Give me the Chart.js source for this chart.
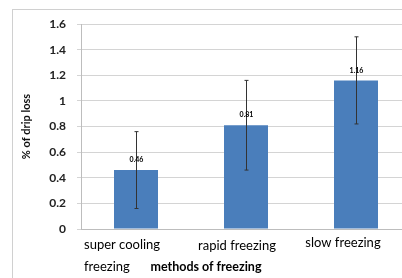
<!DOCTYPE html>
<html>
<head>
<meta charset="utf-8">
<script src="https://cdn.jsdelivr.net/npm/chart.js@4.4.1/dist/chart.umd.min.js"></script>
<style>
  body { margin: 0; overflow: hidden; background: #fff; }
  #wrap { position: absolute; left: 0; top: 0; width: 412px; height: 278px; }
</style>
</head>
<body>
<div id="wrap"><canvas id="dripChart"></canvas></div>
<script>
var methods = [["super cooling", "freezing"], ["rapid freezing"], ["slow freezing"]];
var dripLoss = [0.46, 0.81, 1.16];
var dripErr = [0.30, 0.35, 0.34];
var valueLabels = ["0.46", "0.81", "1.16"];
var yTicks = [0, 0.2, 0.4, 0.6, 0.8, 1, 1.2, 1.4, 1.6];

var FONT = "Lato, 'Open Sans', sans-serif";

// light frame round the chart, like the office chart border
var framePlugin = {
    id: 'frame',
    beforeDraw: function (chart) {
        var c = chart.ctx;
        c.save();
        c.fillStyle = '#fff';
        c.fillRect(0, 0, chart.width, chart.height);
        c.strokeStyle = '#d0d0d0';
        c.lineWidth = 1;
        c.strokeRect(12.5, 9.5, 600, 400);
        c.restore();
    }
};

// error bars and value labels, placed with the chart's own scales
var errorPlugin = {
    id: 'errors',
    afterDatasetsDraw: function (chart) {
        var c = chart.ctx;
        var x = chart.scales.x, y = chart.scales.y;
        c.save();
        c.strokeStyle = '#333';
        c.lineWidth = 1;
        dripLoss.forEach(function (v, i) {
            var px = Math.round(x.getPixelForValue(i)) + 0.5;
            var top = y.getPixelForValue(v + dripErr[i]);
            var bot = y.getPixelForValue(v - dripErr[i]);
            c.beginPath();
            c.moveTo(px, top); c.lineTo(px, bot);
            c.moveTo(px - 2, top); c.lineTo(px + 2, top);
            c.moveTo(px - 2, bot); c.lineTo(px + 2, bot);
            c.stroke();
            c.fillStyle = '#000';
            c.font = 'bold 7px ' + FONT;
            c.textAlign = 'center';
            c.textBaseline = 'middle';
            c.fillText(valueLabels[i], px, y.getPixelForValue(v) - 10);
        });
        c.restore();
    },
    afterDraw: function (chart) {
        var c = chart.ctx;
        var x = chart.scales.x;
        c.save();
        c.fillStyle = '#000';
        c.font = '13px ' + FONT;
        c.textBaseline = 'middle';
        c.textAlign = 'left';
        var p0 = x.getPixelForValue(0);
        c.fillText(methods[0][0], p0 - 52, 245);
        c.fillText(methods[0][1], p0 - 52, 267);
        c.textAlign = 'center';
        c.fillText(methods[1][0], x.getPixelForValue(1) - 9, 246);
        c.fillText(methods[2][0], x.getPixelForValue(2) - 13, 243);
        c.font = 'bold 12.5px ' + FONT;
        c.fillText('methods of freezing', (x.getPixelForValue(0) + x.getPixelForValue(1)) / 2 + 15, 267);
        c.restore();
    }
};

var ctx = document.getElementById("dripChart").getContext('2d');
var myChart = new Chart(ctx, {
    type: 'bar',
    data: {
        labels: methods,
        datasets: [{
            label: '% of drip loss',
            backgroundColor: "#4a7ebb",
            data: dripLoss,
            barPercentage: 0.4,
            categoryPercentage: 1
        }]
    },
    options: {
        responsive: true,
        maintainAspectRatio: false,
        animation: false,
        layout: { padding: { top: 24, right: 1, left: 0, bottom: 0 } },
        plugins: {
            legend: { display: false },
            tooltip: { enabled: false }
        },
        scales: {
            x: {
                grid: { display: false },
                border: { color: '#bdbdbd' },
                ticks: { display: false },
                afterFit: function (s) { s.height = 49; }
            },
            y: {
                min: 0,
                max: 1.6,
                afterBuildTicks: function (s) {
                    s.ticks = yTicks.map(function (v) { return { value: v }; });
                },
                grid: { color: '#d4d4d4', tickLength: 4 },
                border: { color: '#bdbdbd' },
                ticks: {
                    padding: 11,
                    color: '#222',
                    font: { family: FONT, size: 12, weight: 'bold' },
                    callback: function (v) { return String(Math.round(v * 10) / 10); }
                },
                title: {
                    display: true,
                    text: '% of drip loss',
                    color: '#111',
                    font: { family: FONT, size: 11, weight: 'bold' },
                    padding: { top: 20, bottom: 0 }
                },
                afterFit: function (s) { s.width = 81; }
            }
        }
    },
    plugins: [framePlugin, errorPlugin]
});
</script>
</body>
</html>
